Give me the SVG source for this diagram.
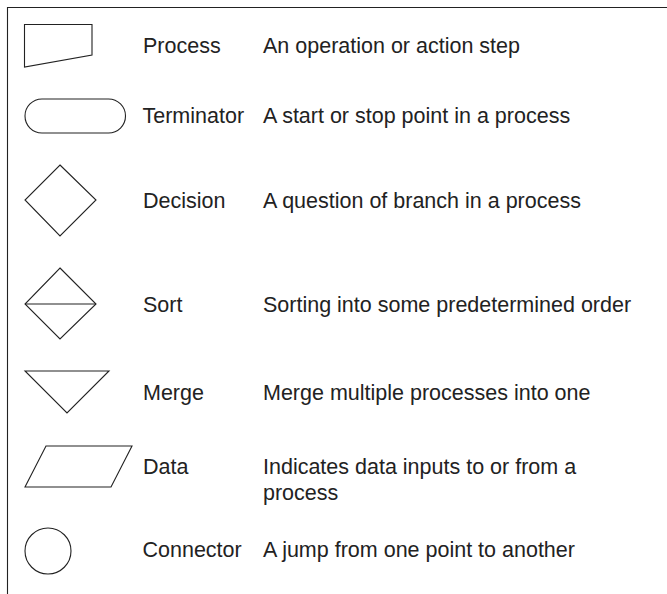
<svg xmlns="http://www.w3.org/2000/svg" width="667" height="594" viewBox="0 0 667 594">
<style>
.s{fill:none;stroke:#222;stroke-width:1.1;stroke-linejoin:miter}
.t{font-family:"Liberation Sans",Arial,sans-serif;font-size:21.5px;fill:#222}
</style>
<rect width="667" height="594" fill="#fff"/>
<g id="frame"><path class="s" d="M7.5,594 V7.5 H667" stroke-width="1.3"/></g>
<g id="process"><polygon class="s" points="24.5,24.5 92,24.5 92,55 24.5,67"/><text class="t" x="143" y="53">Process</text><text class="t" x="263" y="53">An operation or action step</text></g>
<g id="terminator"><rect class="s" x="25" y="99" width="100.5" height="34" rx="17" ry="17"/><text class="t" x="142.5" y="122.5">Terminator</text><text class="t" x="263" y="122.5">A start or stop point in a process</text></g>
<g id="decision"><polygon class="s" points="60,165 96,200 60,236 25,200"/><text class="t" x="143" y="208">Decision</text><text class="t" x="263" y="208">A question of branch in a process</text></g>
<g id="sort"><polygon class="s" points="60,268 96,304 60,339 25,304"/><line class="s" x1="25" y1="304" x2="96" y2="304"/><text class="t" x="143" y="312">Sort</text><text class="t" x="263" y="312">Sorting into some predetermined order</text></g>
<g id="merge"><polygon class="s" points="25,371 109,371 67,413"/><text class="t" x="143" y="400">Merge</text><text class="t" x="263" y="400">Merge multiple processes into one</text></g>
<g id="data"><polygon class="s" points="46,446 132,446 111,487 25,487"/><text class="t" x="143" y="474">Data</text><text class="t" x="263" y="474">Indicates data inputs to or from a</text><text class="t" x="263" y="500">process</text></g>
<g id="connector"><circle class="s" cx="48" cy="551" r="23"/><text class="t" x="142.5" y="557">Connector</text><text class="t" x="263" y="557">A jump from one point to another</text></g>
<g id="connectors"></g>
</svg>
